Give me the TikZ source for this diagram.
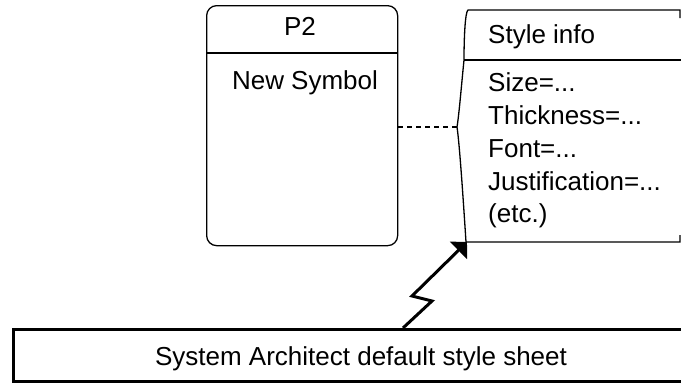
\documentclass[tikz,border=0pt]{standalone}
\usepackage{fontspec}
\setmainfont{Liberation Sans}
\usetikzlibrary{arrows.meta}
\begin{document}
\begin{tikzpicture}[x=1pt,y=-1pt,
  thinline/.style={line width=1.3pt},
  lbl/.style={inner sep=0pt,anchor=base,font=\fontsize{26}{30}\selectfont},
  lblw/.style={inner sep=0pt,anchor=base west,font=\fontsize{26}{30}\selectfont}]
\useasboundingbox (0,0) rectangle (681,383);
% P2 symbol
\node[draw,thinline,rounded corners=10pt,minimum width=191pt,minimum height=240pt,anchor=north west,inner sep=0pt] (p2) at (206,5) {};
\coordinate (p2divl) at (206,53);
\coordinate (p2divr) at (397,53);
\draw[thinline] (p2divl) -- (p2divr);
\node[lbl] (p2t) at (300,35) {P2};
\node[lbl] (ns) at (305,89) {New Symbol};
% Style info box
\coordinate (tl) at (468,10);
\coordinate (tr) at (680,10);
\coordinate (trt) at (680,18);
\coordinate (dl) at (464,60);
\coordinate (dr) at (681,60);
\coordinate (brk) at (457,127);
\coordinate (bl) at (466,242);
\coordinate (br) at (680,242);
\coordinate (brt) at (680,235);
\draw[thinline] (trt) -- (tr) -- (tl) .. controls (465,12) and (464,40) .. (dl) .. controls (461,90) and (459,115) .. (brk)
  .. controls (459,140) and (462,180) .. (bl) -- (br) -- (brt);
\draw[thinline] (dl) -- (dr);
\node[lblw] (si) at (488,43) {Style info};
\node[lblw] (s1) at (488,91) {Size=...};
\node[lblw] (s2) at (488,124) {Thickness=...};
\node[lblw] (s3) at (488,157) {Font=...};
\node[lblw] (s4) at (488,190) {Justification=...};
\node[lblw] (s5) at (488,222) {(etc.)};
% dashed connector
\draw[thinline,dash pattern=on 5pt off 4pt] (p2.east |- brk) -- (brk);
% default style sheet
\node[draw,line width=3pt,minimum width=690pt,minimum height=52pt,anchor=north west,inner sep=0pt] (sheet) at (12,328) {};
\node[lbl] (sheett) at (361,365) {System Architect default style sheet};
% lightning arrow
\coordinate (z0) at (403,328);
\coordinate (z1) at (432,301);
\coordinate (z2) at (412,296);
\coordinate (tip) at (467,242);
\draw[line width=3pt,-{Triangle[length=12pt,width=24pt]}] (z0) -- (z1) -- (z2) -- (tip);
\end{tikzpicture}
\end{document}
